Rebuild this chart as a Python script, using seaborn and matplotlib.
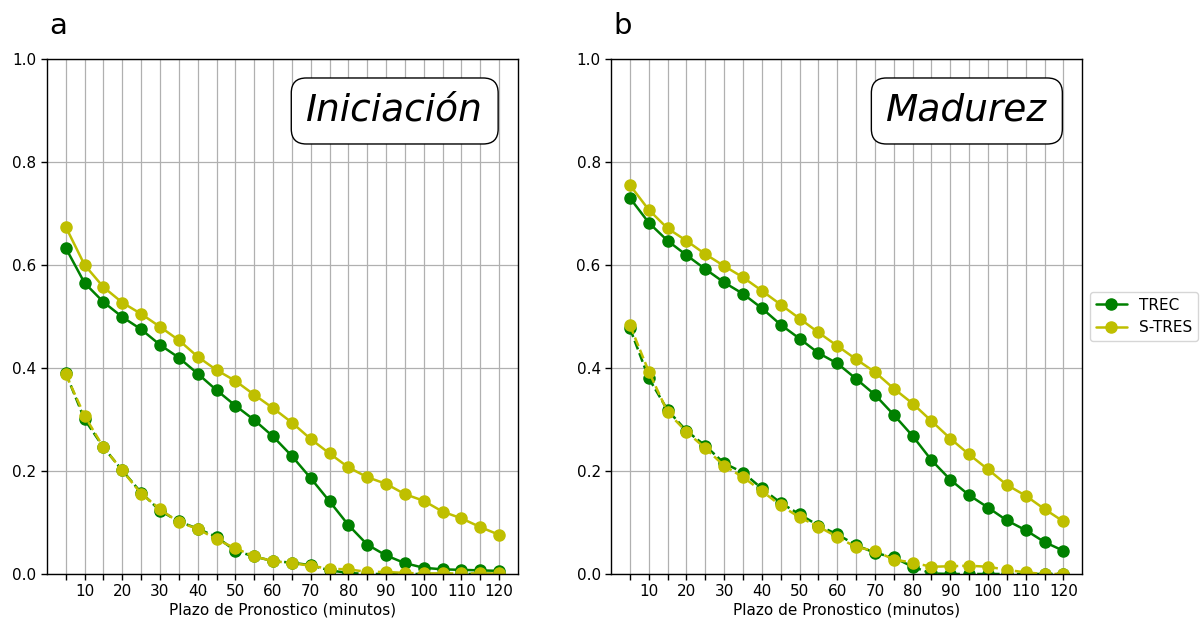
import matplotlib
matplotlib.use("Agg")
import matplotlib.pyplot as plt
import seaborn as sns

# datos
plazo = [5, 10, 15, 20, 25, 30, 35, 40, 45, 50, 55, 60, 65, 70, 75, 80, 85, 90, 95, 100, 105, 110, 115, 120]

# a: Iniciacion
ini_trec = [0.633, 0.565, 0.528, 0.499, 0.475, 0.445, 0.420, 0.389, 0.357, 0.327, 0.299, 0.267,
            0.229, 0.186, 0.141, 0.095, 0.057, 0.036, 0.021, 0.012, 0.009, 0.008, 0.007, 0.006]
ini_stres = [0.674, 0.600, 0.557, 0.527, 0.505, 0.480, 0.454, 0.422, 0.396, 0.375, 0.348, 0.322,
             0.294, 0.262, 0.234, 0.207, 0.188, 0.175, 0.155, 0.142, 0.121, 0.108, 0.091, 0.076]
ini_trec_d = [0.390, 0.300, 0.246, 0.201, 0.158, 0.123, 0.102, 0.088, 0.072, 0.045, 0.034, 0.025,
              0.022, 0.017, 0.007, 0.002, 0.0, 0.0, 0.0, 0.0, 0.0, 0.0, 0.0, 0.0]
ini_stres_d = [0.388, 0.307, 0.246, 0.201, 0.156, 0.126, 0.100, 0.088, 0.067, 0.050, 0.034, 0.025,
               0.021, 0.016, 0.010, 0.009, 0.004, 0.004, 0.002, 0.001, 0.001, 0.001, 0.001, 0.001]

# b: Madurez
mad_trec = [0.730, 0.682, 0.647, 0.619, 0.592, 0.566, 0.544, 0.516, 0.484, 0.457, 0.429, 0.409,
            0.379, 0.348, 0.309, 0.268, 0.221, 0.183, 0.153, 0.129, 0.104, 0.085, 0.062, 0.045]
mad_stres = [0.755, 0.707, 0.671, 0.647, 0.621, 0.598, 0.576, 0.550, 0.523, 0.496, 0.469, 0.443,
             0.417, 0.392, 0.360, 0.331, 0.297, 0.263, 0.232, 0.203, 0.173, 0.152, 0.126, 0.102]
mad_trec_d = [0.477, 0.380, 0.318, 0.278, 0.249, 0.215, 0.197, 0.166, 0.138, 0.116, 0.094, 0.077,
              0.056, 0.041, 0.032, 0.014, 0.001, 0.0, 0.0, 0.0, 0.0, 0.0, 0.0, 0.0]
mad_stres_d = [0.483, 0.393, 0.314, 0.276, 0.244, 0.210, 0.188, 0.161, 0.133, 0.110, 0.092, 0.072,
               0.052, 0.045, 0.028, 0.022, 0.014, 0.015, 0.016, 0.014, 0.008, 0.003, 0.0, 0.0]

sns.set_style("ticks", {"axes.edgecolor": "black", "text.color": "black",
                        "xtick.color": "black", "ytick.color": "black",
                        "axes.labelcolor": "black", "grid.color": "#b0b0b0"})
plt.rcParams["font.family"] = ["DejaVu Sans"]
plt.rcParams["font.size"] = 11

fig = plt.figure(figsize=(12.03, 6.23), dpi=100)
ax1 = fig.add_axes([0.039, 0.0787, 0.3916, 0.8266])
ax2 = fig.add_axes([0.508, 0.0787, 0.3916, 0.8266])

paneles = [
    (ax1, "a", "Iniciación", ini_trec, ini_stres, ini_trec_d, ini_stres_d),
    (ax2, "b", "Madurez", mad_trec, mad_stres, mad_trec_d, mad_stres_d),
]

for ax, letra, titulo, trec, stres, trec_d, stres_d in paneles:
    for yv, col, ls, lab in [(trec, "g", "-", "TREC"), (stres, "y", "-", "S-TRES"),
                             (trec_d, "g", "--", "_nolegend_"), (stres_d, "y", "--", "_nolegend_")]:
        sns.lineplot(x=plazo, y=yv, ax=ax, color=col, linestyle=ls, marker="o",
                     markersize=8, markeredgecolor=col, markeredgewidth=1,
                     linewidth=1.8, label=lab, legend=False)

    ax.set_xlim(0, 125)
    ax.set_ylim(0, 1.0)
    ax.set_xticks(plazo)
    ax.set_xticklabels([str(v) if v % 10 == 0 else "" for v in plazo])
    ax.set_yticks([0.0, 0.2, 0.4, 0.6, 0.8, 1.0])
    ax.set_yticklabels(["0.0", "0.2", "0.4", "0.6", "0.8", "1.0"])
    ax.grid(True, color="#b0b0b0", linewidth=0.9)
    ax.set_axisbelow(True)
    ax.tick_params(length=4, width=1, labelsize=11)
    for s in ax.spines.values():
        s.set_linewidth(1.0)
    ax.set_xlabel("Plazo de Pronostico (minutos)", fontsize=11, labelpad=2)
    ax.set_ylabel("")

    ax.text(0.926, 0.934, titulo, transform=ax.transAxes, ha="right", va="top",
            fontsize=27, style="italic",
            bbox=dict(boxstyle="round,pad=0.4", facecolor="white", edgecolor="black", linewidth=1))

    pos = ax.get_position()
    fig.text(pos.x0 + 0.002, 0.945, letra, fontsize=21, va="baseline")

ax2.legend(loc="center left", bbox_to_anchor=(1.0, 0.5), fontsize=11)

fig.savefig("out.png", dpi=100)
